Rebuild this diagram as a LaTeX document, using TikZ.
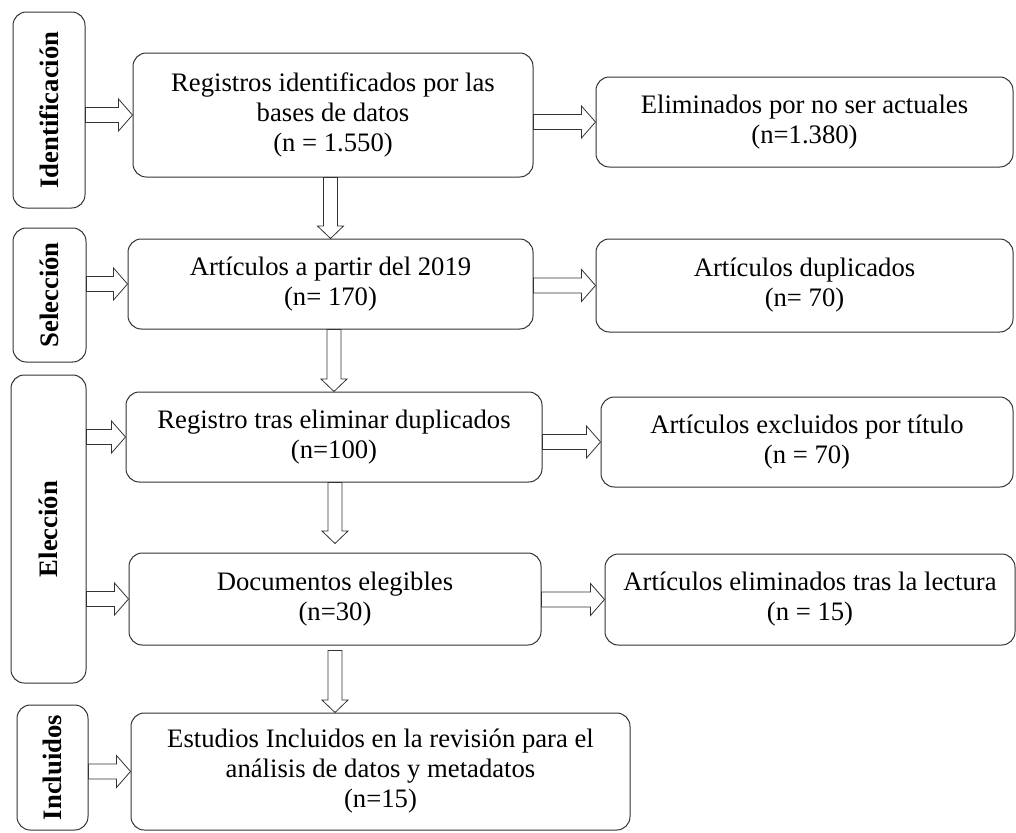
\documentclass[tikz,border=0pt]{standalone}
\usepackage{fontspec}
\setmainfont{Liberation Serif}
\usetikzlibrary{calc}
\tikzset{
  sz/.style 2 args={minimum width={#1*0.75pt}, minimum height={#2*0.75pt}},
  box/.style={draw=black!80, line width=0.75pt, rounded corners=10pt, align=center, inner sep=0pt, font=\fontsize{20}{22.5}\selectfont},
  lab/.style={draw=black!80, line width=0.75pt, rounded corners=10pt, inner sep=0pt},
  labtext/.style={rotate=90, inner sep=0pt, font=\fontsize{20}{22.5}\selectfont\bfseries},
  arrowline/.style={draw=black!80, line width=0.6pt, fill=white, line join=miter}
}
\newcommand{\hArrow}[2]{%
  \draw[arrowline] ($(#1)+(0,-7.5)$) -- ($(#2)+(-14,-7.5)$) -- ($(#2)+(-14,-16)$) -- (#2)
    -- ($(#2)+(-14,16)$) -- ($(#2)+(-14,7.5)$) -- ($(#1)+(0,7.5)$) -- cycle;}
\newcommand{\vArrow}[2]{%
  \draw[arrowline] ($(#1)+(-7,0)$) -- ($(#2)+(-7,-12.5)$) -- ($(#2)+(-13,-12.5)$) -- (#2)
    -- ($(#2)+(13,-12.5)$) -- ($(#2)+(7,-12.5)$) -- ($(#1)+(7,0)$) -- cycle;}
\begin{document}
\begin{tikzpicture}[x=0.75pt,y=-0.75pt]
\useasboundingbox (0,0) rectangle (1016,832);
% stage labels
\node[lab, sz={72}{196}] (lab1) at (49,110) {};
\node[labtext] (lab1t) at (lab1.center) {Identificación};
\node[lab, sz={73}{134}] (lab2) at (49.5,295) {};
\node[labtext] (lab2t) at (lab2.center) {Selección};
\node[lab, sz={75}{308}] (lab3) at (48.5,529) {};
\node[labtext] (lab3t) at (lab3.center) {Elección};
\node[lab, sz={71}{125}] (lab4) at (52.5,767.5) {};
\node[labtext] (lab4t) at (lab4.center) {Incluidos};
% main boxes
\node[box, sz={400}{124}] (b1) at (333,115) {Registros identificados por las\\bases de datos\\(n = 1.550)};
\node[box, sz={405}{90}] (b2) at (330.5,284) {Artículos a partir del 2019\\(n= 170)};
\node[box, sz={416}{90}] (b3) at (334,437) {Registro tras eliminar duplicados\\(n=100)};
\node[box, sz={412}{92}] (b4) at (335,599) {Documentos elegibles\\(n=30)};
\node[box, sz={499}{117}] (b5) at (380.5,771.5) {Estudios Incluidos en la revisión para el\\análisis de datos y metadatos\\(n=15)};
% right boxes
\node[box, sz={417}{90}] (r1) at (804.5,122) {Eliminados por no ser actuales\\(n=1.380)};
\node[box, sz={417}{93}] (r2) at (804.5,285.5) {Artículos duplicados\\(n= 70)};
\node[box, sz={412}{90}] (r3) at (807,442) {Artículos excluidos por título\\(n = 70)};
\node[box, sz={410}{91}] (r4) at (810,599.5) {Artículos eliminados tras la lectura\\(n = 15)};
% left arrows
\coordinate (s1) at (lab1.east |- b1.west); \hArrow{s1}{b1.west}
\coordinate (s2) at (lab2.east |- b2.west); \hArrow{s2}{b2.west}
\coordinate (s3) at (lab3.east |- b3.west); \hArrow{s3}{b3.west}
\coordinate (s4) at (lab3.east |- b4.west); \hArrow{s4}{b4.west}
\coordinate (s5) at (lab4.east |- b5.west); \hArrow{s5}{b5.west}
% right arrows
\coordinate (t1) at (b1.east |- r1.west); \hArrow{t1}{r1.west}
\coordinate (t2) at (b2.east |- r2.west); \hArrow{t2}{r2.west}
\coordinate (t3) at (b3.east |- r3.west); \hArrow{t3}{r3.west}
\coordinate (t4) at (b4.east |- r4.west); \hArrow{t4}{r4.west}
% vertical arrows
\coordinate (d1s) at (b2.north |- b1.south); \vArrow{d1s}{b2.north}
\coordinate (d2s) at (b3.north |- b2.south); \vArrow{d2s}{b3.north}
\coordinate (d3s) at (b4.north |- b3.south); \coordinate (d3e) at ($(b4.north)+(0,-9)$); \vArrow{d3s}{d3e}
\coordinate (d4s) at ($(b4.south)+(0,5)$); \coordinate (d4e) at (b4.south |- b5.north); \vArrow{d4s}{d4e}
\end{tikzpicture}
\end{document}
